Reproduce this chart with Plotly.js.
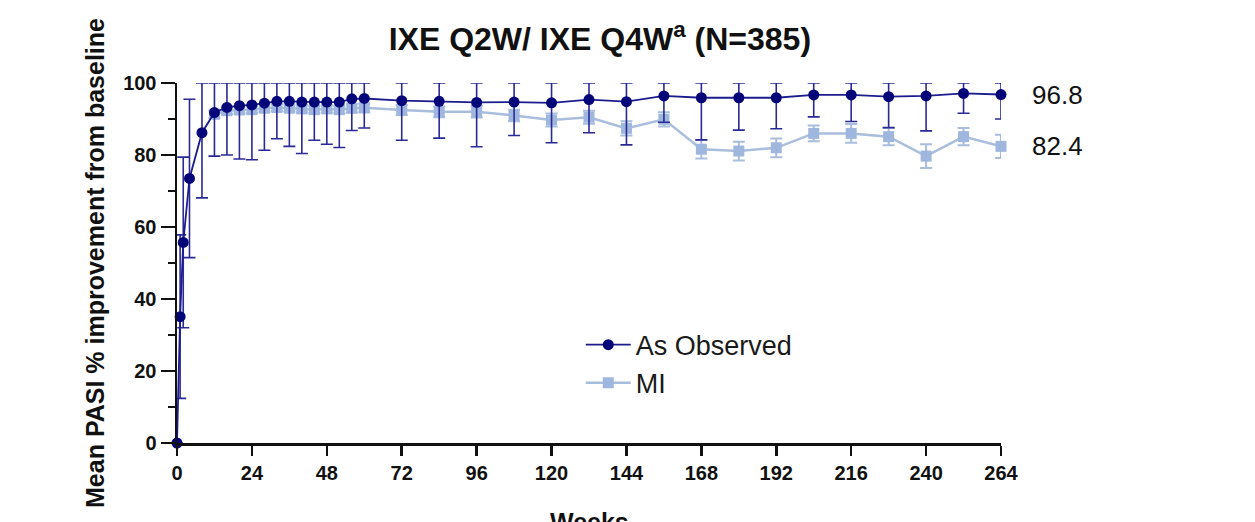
<!DOCTYPE html>
<html>
<head>
<meta charset="utf-8">
<script src="https://cdn.plot.ly/plotly-3.0.1.min.js"></script>
<style>html,body{margin:0;padding:0;background:#fff;}#chart{width:1255px;height:522px;}</style>
</head>
<body>
<div id="chart"></div>
<script>
// ---- data ----
var aoWeeks = [0,1,2,4,8,12,16,20,24,28,32,36,40,44,48,52,56,60,72,84,96,108,120,132,144,156,168,180,192,204,216,228,240,252,264];
var aoMean  = [0,35.1,55.7,73.5,86.2,91.8,93.2,93.7,93.9,94.4,94.9,94.9,94.7,94.7,94.7,94.7,95.6,95.7,95.1,94.9,94.6,94.7,94.5,95.4,94.8,96.4,95.9,95.9,95.9,96.7,96.7,96.2,96.4,97.1,96.8];
var aoSD    = [0,22.7,23.7,22.0,18.1,12.1,13.2,14.8,15.2,13.1,10.4,12.5,14.3,10.6,11.7,12.6,8.8,8.2,11.0,10.2,12.3,9.3,11.1,9.2,12.0,7.3,11.7,9.0,8.6,6.1,7.4,8.6,9.7,5.5,6.8];

var miWeeks = [12,16,20,24,28,32,36,40,44,48,52,56,60,72,84,96,108,120,132,144,156,168,180,192,204,216,228,240,252,264];
var miMean  = [91.3,92.3,92.5,92.6,93.0,93.2,93.0,92.8,92.6,92.8,92.6,93.0,93.1,92.5,92.0,92.0,91.0,89.7,90.5,87.4,89.9,81.6,81.1,82.0,86.0,86.0,85.1,79.7,85.1,82.4];
var miErr   = [1,1,1,1,1,1,1,1,1,1,1,1.2,1.2,1.4,1.5,1.6,1.6,1.8,1.8,2.0,2.0,2.6,2.6,2.6,2.2,2.6,2.4,3.3,2.4,3.2];

var xTicks = [0,24,48,72,96,120,144,168,192,216,240,264];
var yTicks = [0,20,40,60,80,100];
var seriesNames = ["As Observed","MI"];
var endLabels = ["96.8","82.4"];
var titleText = "IXE Q2W/ IXE Q4W<sup>a</sup> (N=385)";
var yTitle = "Mean PASI % improvement from baseline";
var xTitle = "Weeks";

// error bars are cut at the top of the axis (100)
var yMax = 100;
function upper(m, s){ return m.map(function(v,i){ return Math.min(v + s[i], yMax) - v; }); }
function lower(m, s){ return m.map(function(v,i){ return Math.min(s[i], v); }); }

var dark = "#05057a";
var light = "#9fb7de";
var font = "Liberation Sans, Arial, sans-serif";

var traces = [
  {
    x: miWeeks, y: miMean, name: seriesNames[1], type: "scatter", mode: "lines+markers",
    line: {color: "#a9bddc", width: 2.5},
    marker: {symbol: "square", size: 11, color: light, line: {width: 0}},
    error_y: {type: "data", symmetric: false, array: upper(miMean, miErr), arrayminus: lower(miMean, miErr),
              color: "#a9bddc", thickness: 2, width: 6},
    cliponaxis: false, hoverinfo: "x+y"
  },
  {
    x: aoWeeks, y: aoMean, name: seriesNames[0], type: "scatter", mode: "lines+markers",
    line: {color: "#1c1c8e", width: 1.8},
    marker: {symbol: "circle", size: 11, color: dark, line: {width: 0}},
    error_y: {type: "data", symmetric: false, array: upper(aoMean, aoSD), arrayminus: lower(aoMean, aoSD),
              color: "#2a2a95", thickness: 1.6, width: 6},
    cliponaxis: false, hoverinfo: "x+y"
  }
];

var layout = {
  width: 1255, height: 522,
  paper_bgcolor: "#fff", plot_bgcolor: "#fff",
  margin: {l: 177, r: 254, t: 83, b: 79, autoexpand: false},
  showlegend: true,
  legend: {
    x: 0.49, y: 0.34, xanchor: "left", yanchor: "top",
    traceorder: "reversed",
    font: {family: font, size: 27, color: "#1a1a1a"},
    bgcolor: "rgba(0,0,0,0)", itemwidth: 45, tracegroupgap: 0
  },
  title: {
    text: titleText, x: 0.478, xanchor: "center", y: 0.925, yanchor: "middle",
    font: {family: font, size: 32, color: "#111", weight: "bold"}
  },
  xaxis: {
    range: [0, 264], tickvals: xTicks, ticktext: xTicks.map(String),
    showgrid: false, zeroline: false, showline: true, linecolor: "#111", linewidth: 2.5,
    ticks: "outside", ticklen: 10, tickwidth: 2.5, tickcolor: "#111",
    tickfont: {family: font, size: 20, color: "#111", weight: "bold"},
    automargin: false, fixedrange: true
  },
  yaxis: {
    range: [0, 100], tickvals: yTicks, ticktext: yTicks.map(String),
    showgrid: false, zeroline: false, showline: true, linecolor: "#111", linewidth: 2.5,
    ticks: "outside", ticklen: 14, tickwidth: 2.5, tickcolor: "#111",
    minor: {dtick: 10, ticks: "outside", ticklen: 7, tickwidth: 2.5, tickcolor: "#111", showgrid: false},
    tickfont: {family: font, size: 20, color: "#111", weight: "bold"},
    title: {text: yTitle, standoff: 12, font: {family: font, size: 25, color: "#111", weight: "bold"}},
    automargin: false, fixedrange: true
  },
  annotations: [
    {xref: "paper", yref: "y", x: 1.035, y: aoMean[aoMean.length-1], text: endLabels[0], showarrow: false,
     xanchor: "left", yanchor: "middle", font: {family: font, size: 26, color: "#111"}},
    {xref: "paper", yref: "y", x: 1.035, y: miMean[miMean.length-1], text: endLabels[1], showarrow: false,
     xanchor: "left", yanchor: "middle", font: {family: font, size: 26, color: "#111"}},
    {xref: "paper", yref: "paper", x: 0.5, y: -0.175, text: xTitle, showarrow: false,
     xanchor: "center", yanchor: "top", font: {family: font, size: 25, color: "#111", weight: "bold"}}
  ]
};

Plotly.newPlot("chart", traces, layout, {displayModeBar: false, staticPlot: true});
</script>
</body>
</html>
